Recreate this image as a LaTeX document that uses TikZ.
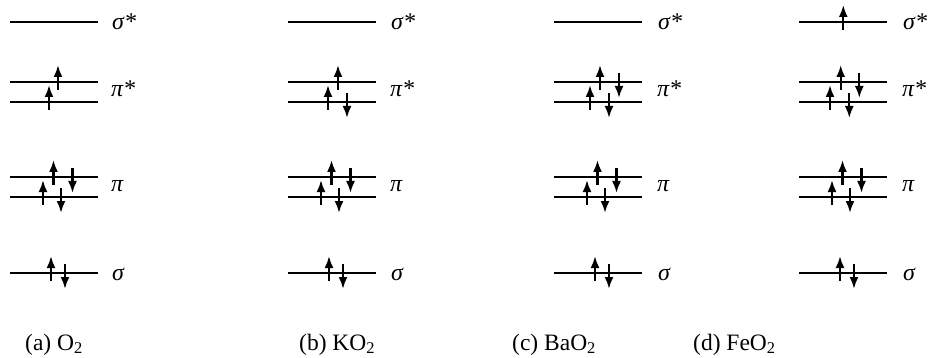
\documentclass[tikz,border=0pt]{standalone}
\usepackage{fontspec}
\setmainfont{Liberation Serif}
\usetikzlibrary{arrows.meta}
\newcommand\lvl[2]{\draw[levelline] (#1,#2) -- ++(88,0);}
\newcommand\upe[3]{\draw[spin] ({#1+#2},{#3+8}) -- ({#1+#2},{#3-17});}
\newcommand\dne[3]{\draw[spin] ({#1+#2},{#3-9}) -- ({#1+#2},{#3+16});}
\begin{document}
\begin{tikzpicture}[x=1pt,y=-1pt,
  levelline/.style={line width=1.2pt},
  spin/.style={line width=2.2pt,-{Latex[length=12pt,width=9pt]}},
  lab/.style={anchor=base west,inner sep=0pt,font=\fontsize{24}{24}\selectfont\itshape},
  captext/.style={anchor=base west,inner sep=0pt,font=\fontsize{23.5}{24}\selectfont}]
\useasboundingbox (0,0) rectangle (936,358);
% ---------- (a) O2 ----------
\def\px{10}
\lvl{\px}{22}
\lvl{\px}{82}\lvl{\px}{102}
\lvl{\px}{177}\lvl{\px}{197}
\lvl{\px}{273}
\upe{\px}{39}{102}\upe{\px}{48}{82}
\upe{\px}{33}{197}\upe{\px}{43.5}{177}\dne{\px}{51}{197}\dne{\px}{62.5}{177}
\upe{\px}{41}{273}\dne{\px}{55}{273}
\node[lab] (sa1) at (112,30) {σ*};
\node[lab] (pa1) at (111,97) {π*};
\node[lab] (pa2) at (111,192) {π};
\node[lab] (sa2) at (112,280) {σ};
\node[captext] (ca) at (25,350) {(a) O\textsubscript{2}};
% ---------- (b) KO2 ----------
\def\px{288}
\lvl{\px}{22}
\lvl{\px}{82}\lvl{\px}{102}
\lvl{\px}{177}\lvl{\px}{197}
\lvl{\px}{273}
\upe{\px}{40}{102}\upe{\px}{50}{82}\dne{\px}{59}{102}
\upe{\px}{33}{197}\upe{\px}{43.5}{177}\dne{\px}{51}{197}\dne{\px}{62.5}{177}
\upe{\px}{41}{273}\dne{\px}{55}{273}
\node[lab] (sb1) at (391,30) {σ*};
\node[lab] (pb1) at (390,97) {π*};
\node[lab] (pb2) at (390,192) {π};
\node[lab] (sb2) at (391,280) {σ};
\node[captext] (cb) at (299,350) {(b) KO\textsubscript{2}};
% ---------- (c) BaO2 ----------
\def\px{554}
\lvl{\px}{22}
\lvl{\px}{82}\lvl{\px}{102}
\lvl{\px}{177}\lvl{\px}{197}
\lvl{\px}{273}
\upe{\px}{36}{102}\upe{\px}{46}{82}\dne{\px}{55}{102}\dne{\px}{65}{82}
\upe{\px}{33}{197}\upe{\px}{43.5}{177}\dne{\px}{51}{197}\dne{\px}{62.5}{177}
\upe{\px}{41}{273}\dne{\px}{55}{273}
\node[lab] (sc1) at (658,30) {σ*};
\node[lab] (pc1) at (657,97) {π*};
\node[lab] (pc2) at (657,192) {π};
\node[lab] (sc2) at (658,280) {σ};
\node[captext] (cc) at (512,350) {(c) BaO\textsubscript{2}};
% ---------- (d) FeO2 ----------
\def\px{799}
\lvl{\px}{22}
\lvl{\px}{82}\lvl{\px}{102}
\lvl{\px}{177}\lvl{\px}{197}
\lvl{\px}{273}
\upe{\px}{44.3}{22}
\upe{\px}{31}{102}\upe{\px}{41.7}{82}\dne{\px}{50.3}{102}\dne{\px}{60.3}{82}
\upe{\px}{33}{197}\upe{\px}{43.5}{177}\dne{\px}{51}{197}\dne{\px}{62.5}{177}
\upe{\px}{41}{273}\dne{\px}{55}{273}
\node[lab] (sd1) at (903,30) {σ*};
\node[lab] (pd1) at (902,97) {π*};
\node[lab] (pd2) at (902,192) {π};
\node[lab] (sd2) at (903,280) {σ};
\node[captext] (cd) at (693,350) {(d) FeO\textsubscript{2}};
\end{tikzpicture}
\end{document}
